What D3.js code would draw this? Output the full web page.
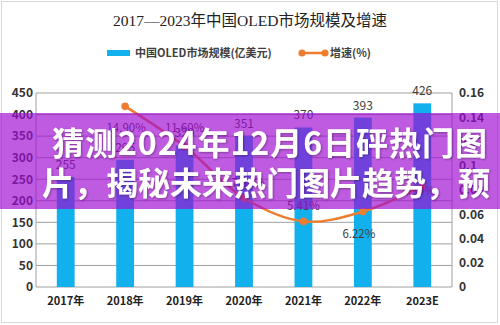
<!DOCTYPE html>
<html>
<head>
<meta charset="utf-8">
<script src="https://cdn.jsdelivr.net/npm/d3@7/dist/d3.min.js"></script>
<style>
  html, body { margin: 0; padding: 0; background: #fff; }
  svg { display: block; }
</style>
</head>
<body>
<svg id="chart" width="500" height="325"></svg>
<script>
// Market size (100M USD) and year-over-year growth
const years = ["2017年", "2018年", "2019年", "2020年", "2021年", "2022年", "2023E"];
const marketSize = [255, 295, 329, 351, 370, 393, 426];
const growth = [null, 0.149, 0.116, 0.0734, 0.0541, 0.0622, 0.083];
const growthLabels = ["", "14.90%", "11.60%", "7.34%", "5.41%", "6.22%", "8.30%"];
const leftTicks = [0, 50, 100, 150, 200, 250, 300, 350, 400, 450];
const rightTicks = [0, 0.02, 0.04, 0.06, 0.08, 0.1, 0.12, 0.14, 0.16];
const titleText = "2017—2023年中国OLED市场规模及增速";
const legendBar = "中国OLED市场规模(亿美元)";
const legendLine = "增速(%)";
const bannerLines = ["猜测2024年12月6日砰热门图", "片，揭秘未来热门图片趋势，预"];

const svg = d3.select("#chart");
const sans = "'Noto Sans CJK SC', 'Noto Sans', sans-serif";
const serif = "'Liberation Serif', 'DejaVu Serif', 'Noto Sans CJK SC', serif";

const plot = { left: 36, right: 452, top: 93, bottom: 287 };

const x = d3.scaleBand().domain(years).range([plot.left, plot.right])
  .paddingInner(0.7).paddingOuter(0.35);
const yL = d3.scaleLinear().domain([0, 450]).range([plot.bottom, plot.top]);
const yR = d3.scaleLinear().domain([0, 0.16]).range([plot.bottom, plot.top]);

// outer border
svg.append("rect").attr("x", 1.5).attr("y", 1.5).attr("width", 496).attr("height", 321)
  .attr("fill", "#fff").attr("stroke", "#d9d9d9");

// title
svg.append("text").attr("x", 250).attr("y", 26).attr("text-anchor", "middle")
  .attr("font-family", serif).attr("font-size", 15.5).attr("fill", "#222")
  .text(titleText);

// legend
svg.append("rect").attr("x", 107).attr("y", 50).attr("width", 23).attr("height", 6).attr("fill", "#12B0EC");
svg.append("text").attr("x", 135).attr("y", 57).attr("font-family", sans).attr("font-weight", 700)
  .attr("font-size", 11).attr("fill", "#404040").text(legendBar);
svg.append("line").attr("x1", 302).attr("x2", 325).attr("y1", 53).attr("y2", 53)
  .attr("stroke", "#ED7D31").attr("stroke-width", 2.5);
[302, 325].forEach(cx => svg.append("circle").attr("cx", cx).attr("cy", 53).attr("r", 3.6).attr("fill", "#ED7D31"));
svg.append("text").attr("x", 330).attr("y", 57).attr("font-family", sans).attr("font-weight", 700)
  .attr("font-size", 11).attr("fill", "#404040").text(legendLine);

// gridlines
svg.append("g").selectAll("line").data(leftTicks).join("line")
  .attr("x1", plot.left).attr("x2", plot.right)
  .attr("y1", d => yL(d)).attr("y2", d => yL(d))
  .attr("stroke", "#a0a0a0").attr("stroke-width", 1);
// plot frame sides
svg.append("line").attr("x1", plot.left).attr("x2", plot.left).attr("y1", plot.top).attr("y2", plot.bottom)
  .attr("stroke", "#a0a0a0");
svg.append("line").attr("x1", plot.right).attr("x2", plot.right).attr("y1", plot.top).attr("y2", plot.bottom)
  .attr("stroke", "#a0a0a0");

// left axis
const axL = d3.axisLeft(yL).tickValues(leftTicks).tickSize(0).tickPadding(3);
svg.append("g").attr("transform", `translate(${plot.left},0)`).call(axL)
  .call(g => g.select(".domain").remove())
  .selectAll("text").attr("font-family", sans).attr("font-size", 12).attr("font-weight", 700).attr("fill", "#333");

// right axis
const axR = d3.axisRight(yR).tickValues(rightTicks).tickSize(0).tickPadding(7)
  .tickFormat(d => d3.format("~g")(d));
svg.append("g").attr("transform", `translate(${plot.right},0)`).call(axR)
  .call(g => g.select(".domain").remove())
  .selectAll("text").attr("font-family", sans).attr("font-size", 12).attr("font-weight", 700).attr("fill", "#333");

// bottom axis
const axB = d3.axisBottom(x).tickSize(0).tickPadding(10);
svg.append("g").attr("transform", `translate(0,${plot.bottom})`).call(axB)
  .call(g => g.select(".domain").remove())
  .selectAll("text").attr("font-family", sans).attr("font-size", 11).attr("font-weight", 700).attr("fill", "#222");

// bars
svg.append("g").selectAll("rect").data(marketSize).join("rect")
  .attr("x", (d, i) => x(years[i])).attr("width", x.bandwidth())
  .attr("y", d => yL(d)).attr("height", d => yL(0) - yL(d))
  .attr("fill", "#12B0EC");

// bar value labels
svg.append("g").selectAll("text").data(marketSize).join("text")
  .attr("x", (d, i) => x(years[i]) + x.bandwidth() / 2)
  .attr("y", d => yL(d) - 8)
  .attr("text-anchor", "middle").attr("font-family", sans).attr("font-size", 12)
  .attr("fill", "#404040").text(d => d);

// growth line
const pts = growth.map((g, i) => ({ g, i })).filter(p => p.g !== null);
const cx = p => x(years[p.i]) + x.bandwidth() / 2;
const line = d3.line().x(cx).y(p => yR(p.g)).curve(d3.curveCatmullRom.alpha(0.5));
svg.append("path").datum(pts).attr("d", line).attr("fill", "none")
  .attr("stroke", "#ED7D31").attr("stroke-width", 2.5);
svg.append("g").selectAll("circle").data(pts).join("circle")
  .attr("cx", cx).attr("cy", p => yR(p.g)).attr("r", 3.8).attr("fill", "#ED7D31");

// growth labels (offsets relative to each marker)
const labelShift = [[0, 0], [1, 26], [0, -14], [4, -11], [0, -11], [-4, 26], [-4, 9]];
svg.append("g").selectAll("text").data(pts).join("text")
  .attr("x", p => cx(p) + labelShift[p.i][0])
  .attr("y", p => yR(p.g) + labelShift[p.i][1])
  .attr("text-anchor", "middle").attr("font-family", sans).attr("font-size", 11.5)
  .attr("fill", "#404040").text(p => growthLabels[p.i]);

// translucent banner with headline
const defs = svg.append("defs");
const f = defs.append("filter").attr("id", "shadow").attr("x", "-5%").attr("y", "-20%")
  .attr("width", "110%").attr("height", "140%");
f.append("feDropShadow").attr("dx", 1).attr("dy", 1).attr("stdDeviation", 1)
  .attr("flood-color", "#000").attr("flood-opacity", 0.35);

svg.append("rect").attr("x", 0).attr("y", 113).attr("width", 500).attr("height", 96)
  .attr("fill", "rgb(160,10,210)").attr("fill-opacity", 0.67);

const bannerX = [52, 42], bannerW = [435, 448], bannerY = [155, 195];
svg.append("g").attr("filter", "url(#shadow)").selectAll("text").data(bannerLines).join("text")
  .attr("x", (d, i) => bannerX[i]).attr("y", (d, i) => bannerY[i])
  .attr("textLength", (d, i) => bannerW[i]).attr("lengthAdjust", "spacing")
  .attr("font-family", sans).attr("font-weight", 700).attr("font-size", 32)
  .attr("fill", "#fff").text(d => d);
</script>
</body>
</html>
